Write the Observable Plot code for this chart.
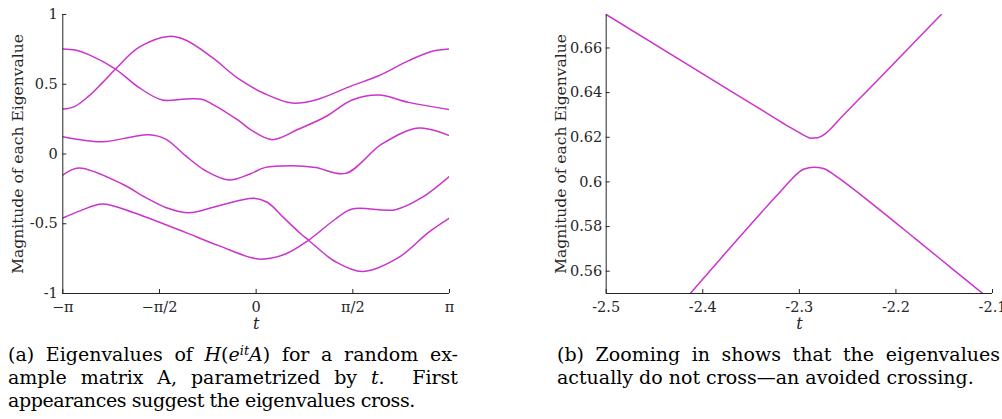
<!DOCTYPE html>
<html><head><meta charset="utf-8">
<script src="https://cdn.jsdelivr.net/npm/d3@7"></script>
<script src="https://cdn.jsdelivr.net/npm/@observablehq/plot@0.6"></script>
<style>
html,body{margin:0;padding:0;background:#fff;}
body{width:1002px;height:419px;overflow:hidden;position:relative;font-family:"DejaVu Serif",serif;}
#a{position:absolute;left:0;top:0;}
#b{position:absolute;left:540px;top:0;}
.cap{position:absolute;font-family:"DejaVu Serif",serif;font-size:19px;line-height:23px;color:#000;}
.cap div{text-align:justify;text-align-last:justify;height:23px;}
.cap div.last{text-align-last:left;}
.cap sup{font-size:0.68em;line-height:0;vertical-align:0.45em;}
</style></head><body>
<div id="a"></div><div id="b"></div>
<div class="cap" style="left:8px;top:343px;width:450px;">
  <div>(a) Eigenvalues of <i>H</i>(<i>e</i><sup><i>it</i></sup><i>A</i>) for a random ex-</div>
  <div>ample matrix A, parametrized by <i>t</i>.&nbsp; First</div>
  <div class="last" style="letter-spacing:-0.4px;">appearances suggest the eigenvalues cross.</div>
</div>
<div class="cap" style="left:557px;top:343px;width:443px;">
  <div>(b) Zooming in shows that the eigenvalues</div>
  <div class="last">actually do not cross—an avoided crossing.</div>
</div>
<script>
// ---------- Panel (a): eigenvalue curves over t in [-π, π] ----------
const xDomainA = [-Math.PI, Math.PI];
const yDomainA = [-1, 1];
const xTicksA = [-Math.PI, -Math.PI / 2, 0, Math.PI / 2, Math.PI];
const xTickLabelsA = ["−π", "−π/2", "0", "π/2", "π"];
const yTicksA = [-1, -0.5, 0, 0.5, 1];
const yTickLabelsA = ["-1", "-0.5", "0", "0.5", "1"];

const tA1 = [-3.1416, -2.935, -2.72, -2.285, -1.907, -1.527, -1.148, -0.9, -0.714, -0.282, -0.065, 0.261, 0.692, 1.127, 1.560, 1.991, 2.479, 3.1416];
const vA1 = [0.753, 0.745, 0.712, 0.609, 0.477, 0.387, 0.394, 0.394, 0.358, 0.239, 0.167, 0.103, 0.179, 0.267, 0.387, 0.423, 0.370, 0.318];

const tA2 = [-3.1416, -2.95, -2.72, -2.50, -2.285, -1.907, -1.42, -1.148, -0.714, -0.282, 0.152, 0.585, 0.964, 1.560, 1.991, 2.479, 2.86, 3.1416];
const vA2 = [0.322, 0.340, 0.415, 0.510, 0.609, 0.764, 0.843, 0.817, 0.692, 0.538, 0.430, 0.365, 0.387, 0.490, 0.561, 0.669, 0.736, 0.753];

const tA3 = [-3.1416, -2.50, -2.0, -1.744, -1.47, -1.148, -0.823, -0.444, -0.1, 0.152, 0.585, 0.964, 1.451, 2.046, 2.641, 3.1416];
const vA3 = [0.124, 0.088, 0.124, 0.138, 0.107, -0.012, -0.120, -0.186, -0.143, -0.096, -0.084, -0.096, -0.139, 0.072, 0.186, 0.131];

const tA4 = [-3.1416, -2.88, -2.177, -1.8, -1.47, -1.095, -0.607, -0.04, 0.18, 0.45, 0.72, 0.856, 1.127, 1.262, 1.723, 2.318, 2.8, 3.1416];
const vA4 = [-0.151, -0.100, -0.215, -0.311, -0.383, -0.421, -0.371, -0.317, -0.346, -0.458, -0.570, -0.620, -0.722, -0.765, -0.842, -0.741, -0.562, -0.459];

const tA5 = [-3.1416, -2.85, -2.50, -2.0, -1.636, -1.148, -0.607, 0.043, 0.476, 0.855, 1.289, 1.560, 2.264, 2.698, 3.1416];
const vA5 = [-0.459, -0.406, -0.358, -0.419, -0.478, -0.562, -0.657, -0.753, -0.717, -0.617, -0.466, -0.394, -0.399, -0.311, -0.160];

// ---------- Panel (b): zoom on the avoided crossing ----------
const xDomainB = [-2.5, -2.1];
const yDomainB = [0.55, 0.675];
const xTicksB = [-2.5, -2.4, -2.3, -2.2, -2.1];
const xTickLabelsB = ["-2.5", "-2.4", "-2.3", "-2.2", "-2.1"];
const yTicksB = [0.56, 0.58, 0.60, 0.62, 0.64, 0.66];
const yTickLabelsB = ["0.56", "0.58", "0.6", "0.62", "0.64", "0.66"];

const tUpper = [-2.5, -2.40, -2.325, -2.31, -2.30, -2.294, -2.288, -2.281, -2.274, -2.268, -2.262, -2.22, -2.153];
const vUpper = [0.675, 0.6484, 0.6285, 0.6245, 0.6221, 0.6206, 0.6196, 0.6198, 0.6213, 0.6236, 0.6264, 0.6451, 0.675];
const tLower = [-2.42, -2.38, -2.34, -2.32, -2.31, -2.30, -2.295, -2.285, -2.275, -2.265, -2.25, -2.22, -2.18, -2.14, -2.105];
const vLower = [0.5465, 0.5664, 0.5860, 0.5955, 0.6003, 0.6045, 0.6058, 0.6066, 0.6060, 0.6035, 0.5988, 0.5886, 0.5746, 0.5605, 0.5482];

const lineColor = "#CC33CC";
const axisColor = "#262626";
const fontFamily = "DejaVu Serif";

function rows(list) {
  return list.flatMap(([name, ts, vs]) => ts.map((t, i) => ({s: name, t, v: vs[i]})));
}
const dataA = rows([["1", tA1, vA1], ["2", tA2, vA2], ["3", tA3, vA3], ["4", tA4, vA4], ["5", tA5, vA5]]);
const dataB = rows([["upper", tUpper, vUpper], ["lower", tLower, vLower]]);

function panel({width, marginLeft, marginRight, xDomain, yDomain, xTicks, xTickLabels, yTicks, yTickLabels, yPad, data, curve}) {
  return Plot.plot({
    width, height: 340,
    marginLeft, marginRight, marginTop: 14, marginBottom: 47,
    style: {fontFamily, fontSize: "14.5px", color: axisColor, background: "transparent", overflow: "visible"},
    x: {domain: xDomain},
    y: {domain: yDomain},
    marks: [
      Plot.line(data, {x: "t", y: "v", z: "s", stroke: lineColor, strokeWidth: 1.5, curve, clip: true}),
      Plot.ruleY([yDomain[0]], {stroke: axisColor, strokeWidth: 1}),
      Plot.ruleX([xDomain[0]], {stroke: axisColor, strokeWidth: 1}),
      Plot.axisX({ticks: xTicks, tickFormat: d => xTickLabels[xTicks.indexOf(d)], tickSize: -4, tickPadding: 12, label: null}),
      Plot.axisY({ticks: yTicks, tickFormat: d => yTickLabels[yTicks.indexOf(d)], tickSize: -4, tickPadding: yPad, label: null}),
      Plot.text(["t"], {text: d => d, frameAnchor: "bottom", dy: 35, fontStyle: "italic", fontSize: 16}),
      Plot.text(["Magnitude of each Eigenvalue"], {text: d => d, frameAnchor: "left", textAnchor: "middle", rotate: -90, dx: -45, fontSize: 15.5})
    ]
  });
}

document.getElementById("a").append(panel({
  width: 460, marginLeft: 62.3, marginRight: 11,
  xDomain: xDomainA, yDomain: yDomainA, xTicks: xTicksA, xTickLabels: xTickLabelsA,
  yTicks: yTicksA, yTickLabels: yTickLabelsA, yPad: 9, data: dataA, curve: "catmull-rom"
}));
document.getElementById("b").append(panel({
  width: 462, marginLeft: 65.7, marginRight: 10,
  xDomain: xDomainB, yDomain: yDomainB, xTicks: xTicksB, xTickLabels: xTickLabelsB,
  yTicks: yTicksB, yTickLabels: yTickLabelsB, yPad: 8, data: dataB, curve: "monotone-x"
}));
</script>
</body></html>
